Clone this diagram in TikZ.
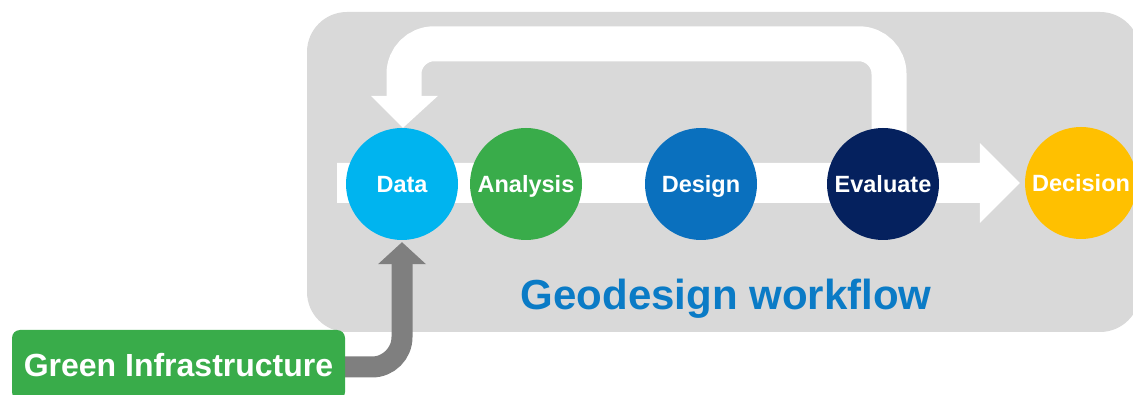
\documentclass[tikz,border=0pt]{standalone}
\usepackage{fontspec}
\setmainfont{Liberation Sans}
\usetikzlibrary{calc}
\pgfdeclarelayer{bg}
\pgfdeclarelayer{mid}
\pgfsetlayers{bg,mid,main}
\definecolor{dataC}{HTML}{00B4EF}
\definecolor{anaC}{HTML}{39AC4A}
\definecolor{desC}{HTML}{0A70BE}
\definecolor{evaC}{HTML}{05215E}
\definecolor{decC}{HTML}{FFC000}
\definecolor{bgC}{HTML}{D9D9D9}
\definecolor{arrC}{HTML}{7F7F7F}
\definecolor{titleC}{HTML}{0A7BC6}
\begin{document}
\begin{tikzpicture}[x=1pt,y=-1pt,
  stage/.style={circle, minimum size=112pt, inner sep=0pt, text=white,
    text height=17pt, text depth=0pt,
    font=\bfseries\fontsize{23.5}{23.5}\selectfont},
  gibox/.style={rectangle, rounded corners=8pt, fill=anaC, text=white,
    minimum width=333pt, minimum height=70pt, inner sep=0pt,
    text height=23pt, text depth=0pt,
    font=\bfseries\fontsize{32}{32}\selectfont},
  titlestyle/.style={text=titleC, inner sep=0pt,
    text height=30pt, text depth=0pt,
    font=\bfseries\fontsize{42}{42}\selectfont},
  whiteflow/.style={white, line width=35pt, rounded corners=30pt},
  grayflow/.style={arrC, line width=21pt, rounded corners=30pt}
]
\useasboundingbox (0,0) rectangle (1133,395);
\clip (0,0) rectangle (1133,395);

\begin{pgfonlayer}{bg}
  \fill[bgC, rounded corners=40pt] (307,12) rectangle (1140,332);
\end{pgfonlayer}

\node[stage, fill=dataC] (data) at (402,184) {Data};
\node[stage, fill=anaC]  (ana)  at (526,184) {Analysis};
\node[stage, fill=desC]  (des)  at (701,184) {Design};
\node[stage, fill=evaC]  (eva)  at (883,184) {Evaluate};
\node[stage, fill=decC]  (dec)  at (1081,183) {Decision};
\node[gibox] (gi) at (178.5,365) {Green Infrastructure};
\node[titlestyle] (title) at (726,295) {Geodesign workflow};

\coordinate (bandstart) at (337,183);

\begin{pgfonlayer}{mid}
  % main flow band with arrow head into Decision
  \fill[white] ($(bandstart)+(0,-20)$) -- ($(dec.west)+(-45,-20)$)
    -- ($(dec.west)+(-45,-40)$) -- ($(dec.west)+(-5,0)$)
    -- ($(dec.west)+(-45,40)$) -- ($(dec.west)+(-45,20)$)
    -- ($(bandstart)+(0,20)$) -- cycle;
  % feedback loop from Evaluate back to Data
  \draw[whiteflow] ($(eva.north)+(6,25)$) -- ($(eva.north)+(6,-84)$)
    -| ($(data.north)+(2,-31)$);
  \fill[white] ($(data.north)+(-31,-32)$) -- ($(data.north)+(36,-32)$)
    -- ($(data.north)+(1,0)$) -- cycle;
  % Green Infrastructure into Data
  \draw[grayflow] ($(gi.east)+(-5,2)$) -| ($(data.south)+(0,23)$);
  \fill[arrC] ($(data.south)+(-24,24)$) -- ($(data.south)+(24,24)$)
    -- ($(data.south)+(0,2)$) -- cycle;
\end{pgfonlayer}
\end{tikzpicture}
\end{document}
